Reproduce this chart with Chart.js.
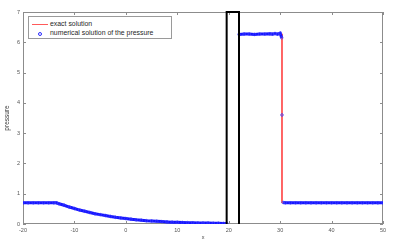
<!DOCTYPE html>
<html>
<head>
<meta charset="utf-8">
<script src="https://cdn.jsdelivr.net/npm/chart.js@4.4.1/dist/chart.umd.min.js"></script>
<style>
html, body { margin: 0; padding: 0; background: #fff; }
#wrap { position: relative; width: 399px; height: 249px; }
#legend {
    position: absolute; left: 28px; top: 16px; width: 142px; height: 21px;
    border: 1px solid #9a9a9a; background: #fff;
    font-family: "Liberation Sans", Arial, sans-serif; font-size: 6.9px; color: #262626;
}
.row { position: absolute; left: 0; height: 8px; line-height: 8px; white-space: nowrap; }
.row span.txt { position: absolute; left: 21px; top: 0; }
.redline { position: absolute; left: 3px; top: 3.5px; width: 16px; height: 1px; background: #ff5a5a; }
.bluedot { position: absolute; left: 9px; top: 2.5px; width: 2px; height: 2px; border: 1px solid #2b2bff; border-radius: 50%; }
</style>
</head>
<body>
<div id="wrap">
    <canvas id="pressureChart" width="399" height="249"></canvas>
    <div id="legend">
        <div class="row" style="top:3px"><div class="redline"></div><span class="txt">exact solution</span></div>
        <div class="row" style="top:12px"><div class="bluedot"></div><span class="txt">numerical solution of the pressure</span></div>
    </div>
</div>
<script>
// ==================================================
// DADOS
// ==================================================
const xTicks = [-20, -10, 0, 10, 20, 30, 40, 50];
const yTicks = [0, 1, 2, 3, 4, 5, 6, 7];

// solução numérica
const numX = [-20, -19, -18, -17, -16, -15, -14, -13.5, -13, -12, -11, -10, -9, -8, -7, -6, -5, -4, -3, -2, -1,
    0, 1, 2, 3, 4, 5, 6, 7, 8, 9, 10, 11, 12, 13, 14, 15, 16, 17, 18, 19, 19.6,
    20.8,
    22, 23, 24, 25, 26, 27, 28, 28.5, 29, 29.5, 30, 30.3, 30.36, 30.6,
    31, 32, 33, 34, 35, 36, 37, 38, 39, 40, 41, 42, 43, 44, 45, 46, 47, 48, 49, 50];
const numP = [0.70, 0.70, 0.70, 0.70, 0.70, 0.70, 0.70, 0.70, 0.67, 0.62, 0.56, 0.51, 0.46, 0.42, 0.38, 0.34, 0.31, 0.28, 0.25, 0.22, 0.20,
    0.18, 0.16, 0.14, 0.125, 0.11, 0.10, 0.09, 0.08, 0.07, 0.06, 0.055, 0.05, 0.045, 0.04, 0.035, 0.03, 0.03, 0.025, 0.025, 0.02, 0.02,
    null,
    6.26, 6.27, 6.27, 6.26, 6.27, 6.27, 6.28, 6.27, 6.29, 6.27, 6.30, 6.15, 3.60, 0.71,
    0.70, 0.70, 0.70, 0.70, 0.70, 0.70, 0.70, 0.70, 0.70, 0.70, 0.70, 0.70, 0.70, 0.70, 0.70, 0.70, 0.70, 0.70, 0.70, 0.70];

// solução exata
const exactX = [-20, -13.5, -10, -5, 0, 5, 10, 15, 19.6, 20.8, 22, 30.36, 30.36, 50];
const exactP = [0.70, 0.70, 0.51, 0.31, 0.18, 0.10, 0.055, 0.03, 0.02, null, 6.28, 6.28, 0.70, 0.70];

// parede (retângulo preto)
const wallX = [19.6, 19.6, 22, 22];
const wallP = [0, 7, 7, 0];

function toPoints(xs, ys) {
    return xs.map((x, i) => ({ x: x, y: ys[i] }));
}

// ==================================================
// MOLDURA E TICKS PARA DENTRO (estilo MATLAB)
// ==================================================
const framePlugin = {
    id: 'frame',
    beforeDatasetsDraw(chart) {
        const { ctx, chartArea: a, scales } = chart;
        ctx.save();
        ctx.strokeStyle = '#8c8c8c';
        ctx.lineWidth = 1;
        ctx.strokeRect(a.left + 0.5, a.top + 0.5, a.right - a.left - 1, a.bottom - a.top - 1);
        ctx.beginPath();
        xTicks.forEach(v => {
            const px = Math.round(scales.x.getPixelForValue(v)) + 0.5;
            ctx.moveTo(px, a.bottom); ctx.lineTo(px, a.bottom - 3);
            ctx.moveTo(px, a.top); ctx.lineTo(px, a.top + 3);
        });
        yTicks.forEach(v => {
            const py = Math.round(scales.y.getPixelForValue(v)) + 0.5;
            ctx.moveTo(a.left, py); ctx.lineTo(a.left + 3, py);
            ctx.moveTo(a.right, py); ctx.lineTo(a.right - 3, py);
        });
        ctx.stroke();
        ctx.restore();
    }
};

const blue = '#1414ff';
const font = { family: '"Liberation Sans", Arial, sans-serif', size: 5.5 };

new Chart(document.getElementById('pressureChart'), {
    type: 'scatter',
    data: {
        datasets: [{
            label: 'numerical solution of the pressure',
            data: toPoints(numX, numP),
            showLine: true,
            borderColor: blue,
            borderWidth: 3,
            pointRadius: 1.3,
            pointBorderWidth: 0.8,
            pointBorderColor: '#3a3aff',
            pointBackgroundColor: 'rgba(255,255,255,0)',
            spanGaps: false,
            segment: {
                borderColor: c => Math.abs(c.p0.parsed.y - c.p1.parsed.y) > 1 ? 'rgba(0,0,0,0)' : blue
            },
            order: 1
        }, {
            label: 'exact solution',
            data: toPoints(exactX, exactP),
            showLine: true,
            borderColor: '#ff5050',
            borderWidth: 1,
            pointRadius: 0,
            spanGaps: false,
            order: 2
        }, {
            label: 'wall',
            data: toPoints(wallX, wallP),
            showLine: true,
            borderColor: '#000',
            borderWidth: 2,
            pointRadius: 0,
            clip: 3,
            order: 0
        }]
    },
    options: {
        responsive: false,
        animation: false,
        events: [],
        layout: { padding: { top: 12, right: 16, left: 0, bottom: 0 } },
        plugins: { legend: { display: false }, tooltip: { enabled: false } },
        scales: {
            x: {
                type: 'linear', min: -20, max: 50,
                afterBuildTicks: s => { s.ticks = xTicks.map(v => ({ value: v })); },
                afterFit: s => { s.height = 25; },
                grid: { display: false, drawTicks: false },
                border: { display: false },
                ticks: { font: font, color: '#555', padding: 3, maxRotation: 0 },
                title: { display: true, text: 'x', font: font, color: '#444', padding: { top: 0, bottom: 8 } }
            },
            y: {
                type: 'linear', min: 0, max: 7,
                afterBuildTicks: s => { s.ticks = yTicks.map(v => ({ value: v })); },
                afterFit: s => { s.width = 23; },
                grid: { display: false, drawTicks: false },
                border: { display: false },
                ticks: { font: font, color: '#555', padding: 3 },
                title: { display: true, text: 'pressure', font: { family: font.family, size: 6.5 }, color: '#333', padding: { top: 3, bottom: 0 } }
            }
        }
    },
    plugins: [framePlugin]
});
</script>
</body>
</html>
